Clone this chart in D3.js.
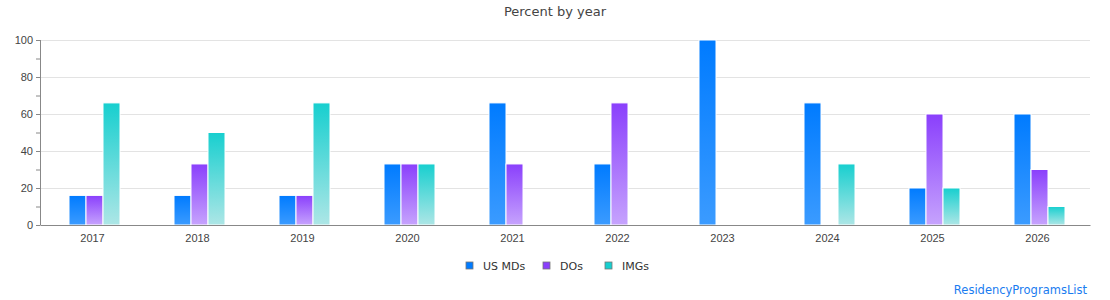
<!DOCTYPE html>
<html lang="en">
  <head>
    <meta charset="UTF-8" />
    <title>Percent by year</title>
    <script src="https://d3js.org/d3.v7.min.js"></script>
    <style>
      body {
        margin: 0;
        font-family: "DejaVu Sans", Verdana, sans-serif;
        background: #fff;
      }
      .grid line {
        stroke: #e3e3e3;
      }
      .axis text {
        fill: #444;
        font-size: 11px;
      }
    </style>
  </head>
  <body>
    <script>
      // Chart data
      const years = ["2017", "2018", "2019", "2020", "2021", "2022", "2023", "2024", "2025", "2026"];
      const usMDs = [16, 16, 16, 33, 66, 33, 100, 66, 20, 60];
      const dos = [16, 33, 16, 33, 33, 66, 0, 0, 60, 30];
      const imgs = [66, 50, 66, 33, 0, 0, 0, 33, 20, 10];
      const seriesNames = ["US MDs", "DOs", "IMGs"];
      const yTicks = [0, 20, 40, 60, 80, 100];

      const width = 1110;
      const height = 300;
      const margin = { top: 40, right: 20, bottom: 75, left: 40 };

      const svg = d3
        .select("body")
        .append("svg")
        .attr("width", width)
        .attr("height", height);

      // gradients, top colour to bottom colour
      const grads = [
        ["#007bff", "#3b9bff"],
        ["#8a3ffc", "#c6a3fd"],
        ["#17cfcf", "#ade6e6"],
      ];
      const defs = svg.append("defs");
      grads.forEach((g, i) => {
        const lg = defs
          .append("linearGradient")
          .attr("id", "grad" + i)
          .attr("x1", 0).attr("y1", 0)
          .attr("x2", 0).attr("y2", 1);
        lg.append("stop").attr("offset", "0%").attr("stop-color", g[0]);
        lg.append("stop").attr("offset", "100%").attr("stop-color", g[1]);
      });

      const x = d3
        .scaleBand()
        .domain(years)
        .range([margin.left, width - margin.right]);

      const y = d3
        .scaleLinear()
        .domain([0, 100])
        .range([height - margin.bottom, margin.top]);

      const inner = d3
        .scaleBand()
        .domain(seriesNames)
        .range([0, 51]);

      // title
      svg
        .append("text")
        .attr("x", 555)
        .attr("y", 16)
        .attr("text-anchor", "middle")
        .attr("font-size", 13)
        .attr("fill", "#444")
        .text("Percent by year");

      // gridlines
      svg
        .append("g")
        .attr("class", "grid")
        .attr("transform", `translate(${margin.left},0)`)
        .call(d3.axisLeft(y).tickValues(yTicks).tickSize(-(width - margin.left - margin.right)).tickFormat(""))
        .call((g) => g.select(".domain").remove());

      // bars
      const rows = years.map((yr, i) => ({
        year: yr,
        vals: [usMDs[i], dos[i], imgs[i]],
      }));

      const groups = svg
        .append("g")
        .selectAll("g")
        .data(rows)
        .join("g")
        .attr("transform", (d) => `translate(${x(d.year) + x.bandwidth() / 2 - 23.5},0)`);

      groups
        .selectAll("rect")
        .data((d) => d.vals.map((v, k) => ({ v, k })).filter((e) => e.v > 0))
        .join("rect")
        .attr("x", (d) => inner(seriesNames[d.k]))
        .attr("y", (d) => y(d.v))
        .attr("width", inner.bandwidth())
        .attr("height", (d) => y(0) - y(d.v))
        .attr("fill", (d) => `url(#grad${d.k})`)
        .attr("stroke", "#fff")
        .attr("stroke-width", 1);

      // y axis
      const yAxis = svg
        .append("g")
        .attr("class", "axis")
        .attr("transform", `translate(${margin.left},0)`)
        .call(d3.axisLeft(y).ticks(10).tickSize(4).tickFormat((d) => (d % 20 === 0 ? d : "")));
      yAxis.selectAll("line, path").attr("stroke", "#888");
      yAxis.select(".domain").attr("d", `M0.5,${margin.top}V${height - margin.bottom}`);

      // x axis
      const xAxis = svg
        .append("g")
        .attr("class", "axis")
        .attr("transform", `translate(0,${height - margin.bottom})`)
        .call(d3.axisBottom(x).tickSize(0).tickPadding(9));
      xAxis.select(".domain").attr("stroke", "#888");

      // legend
      const legendX = [466, 543, 605];
      const legend = svg
        .append("g")
        .selectAll("g")
        .data(seriesNames)
        .join("g")
        .attr("transform", (d, i) => `translate(${legendX[i]},262)`);
      legend
        .append("rect")
        .attr("width", 7)
        .attr("height", 7)
        .attr("fill", (d, i) => grads[i][0])
        .attr("stroke", "#777")
        .attr("stroke-width", 0.8);
      legend
        .append("text")
        .attr("x", 17)
        .attr("y", 7.5)
        .attr("font-size", 11)
        .attr("fill", "#333")
        .text((d) => d);

      // watermark
      svg
        .append("text")
        .attr("x", 1087)
        .attr("y", 294)
        .attr("text-anchor", "end")
        .attr("font-size", 11.5)
        .attr("fill", "#1a7cf0")
        .text("ResidencyProgramsList");
    </script>
  </body>
</html>
